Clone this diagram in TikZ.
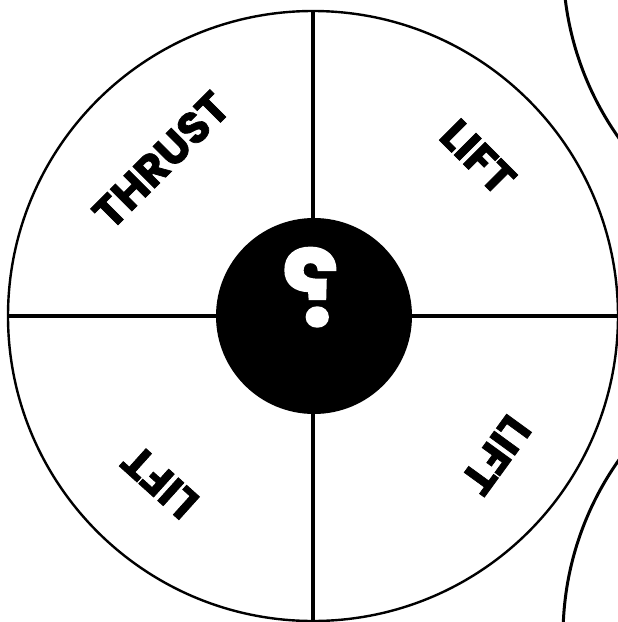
\documentclass[tikz,border=0pt]{standalone}
\usepackage{fontspec}
\usepackage{graphicx}
\setmainfont{Poppins}[BoldFeatures={FakeBold=1.6}]
\usetikzlibrary{positioning}
\definecolor{spinink}{RGB}{0,0,0}

\begin{document}
\begin{tikzpicture}[x=1pt, y=-1pt,
    slot/.style={font=\fontsize{44}{44}\selectfont\bfseries, text=spinink, inner sep=0pt}]
  \useasboundingbox (0,0) rectangle (618,622);
  \clip (0,0) rectangle (618,622);

  % Neighbour wheels
  \draw[line width=3pt, spinink] (868,-38) circle (305);
  \draw[line width=3pt, spinink] (868,636) circle (305);

  % Wheel and dividers
  \draw[line width=2.4pt, spinink] (313,316) circle (305);
  \draw[line width=3.6pt, spinink] (313,10) -- (313,622);
  \draw[line width=3.6pt, spinink] (8,316) -- (618,316);

  % Hub
  \node[circle, fill=spinink, minimum size=196pt, inner sep=0pt] (hub) at (314,316) {};
  \node[white, font=\fontsize{106}{106}\selectfont\bfseries, anchor=base, inner sep=0pt]
    (query) at (310,326) {\reflectbox{?}};

  % Slots
  \node[slot, rotate=45] (thrust) at (161,160) {THRUST};
  \node[slot, rotate=-45] (liftne) at (478,157) {LIFT};
  \node[slot, rotate=-126] (liftse) at (496,455) {LIFT};
  \node[slot, rotate=138] (liftsw) at (160,482) {LIFT};
\end{tikzpicture}
\end{document}
